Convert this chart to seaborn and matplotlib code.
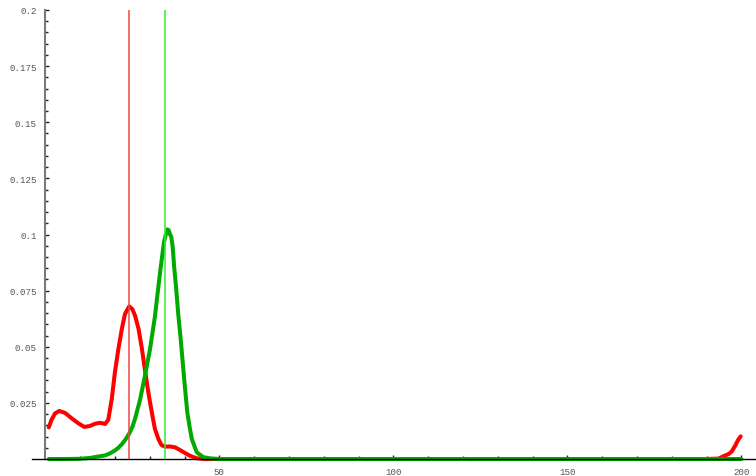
import numpy as np
import matplotlib
matplotlib.use("Agg")
import matplotlib.pyplot as plt
from matplotlib.ticker import FixedLocator, FuncFormatter
import seaborn as sns

# Red density curve
red_x = [1.0, 1.8, 2.8, 4.0, 5.7, 7.6, 9.5, 11.2, 12.8, 14.3, 15.5, 16.5, 17.2, 18.1,
         19.1, 20.0, 21.0, 22.0, 22.9, 24.1, 25.0, 25.8, 26.8, 27.7, 28.6, 29.6, 30.6,
         31.5, 32.5, 33.4, 34.4, 35.8, 37.3, 38.7, 40.1, 41.5, 43.5, 46.0, 60.0, 100.0,
         150.0, 190.0, 193.5, 194.8, 196.3, 197.2, 198.2, 199.1, 199.8]
red_y = [0.0141, 0.0175, 0.0203, 0.0214, 0.0205, 0.0181, 0.0159, 0.0143, 0.0147, 0.0157,
         0.0161, 0.0159, 0.0156, 0.0175, 0.0267, 0.0386, 0.0490, 0.0580, 0.0646, 0.0680,
         0.0668, 0.0638, 0.0579, 0.0497, 0.0401, 0.0297, 0.0208, 0.0134, 0.0089, 0.0062,
         0.0055, 0.0056, 0.0052, 0.0040, 0.0027, 0.0015, 0.0003, 0.0, 0.0, 0.0,
         0.0, 0.0, 0.0002, 0.0012, 0.0022, 0.0033, 0.0059, 0.0086, 0.0101]

# Green density curve
green_x = [1.0, 6.0, 10.0, 13.0, 14.8, 17.2, 18.7, 20.0, 21.0, 22.0, 23.0, 24.0, 25.0,
           25.8, 27.2, 28.6, 30.1, 31.5, 33.0, 34.1, 34.7, 35.1, 35.5, 35.8, 36.2, 36.6,
           37.0, 37.6, 38.2, 38.9, 39.9, 40.8, 41.5, 42.1, 43.5, 45.4, 47.3, 50.0,
           100.0, 150.0, 200.0]
green_y = [0.0, 0.0, 0.0001, 0.0005, 0.0010, 0.0016, 0.0026, 0.0038, 0.0050, 0.0066,
           0.0086, 0.0110, 0.0142, 0.0180, 0.0262, 0.0368, 0.0490, 0.0635, 0.0835,
           0.0965, 0.1005, 0.1023, 0.1018, 0.1001, 0.0990, 0.0945, 0.0860, 0.0760,
           0.0645, 0.0535, 0.0356, 0.0208, 0.0140, 0.0089, 0.0030, 0.0008, 0.0003,
           0.0, 0.0, 0.0, 0.0]

# Reference markers
red_marker = 24.05
green_marker = 34.3

y_ticks = [0.025, 0.05, 0.075, 0.1, 0.125, 0.15, 0.175, 0.2]
x_ticks = [50, 100, 150, 200]

sns.set_style("white")
plt.rcParams["font.family"] = ["Liberation Mono", "DejaVu Sans Mono"]

fig = plt.figure(figsize=(7.56, 4.77), dpi=100)
ax = fig.add_axes([32 / 756, 0, (756 - 32) / 756, 466 / 477])

sns.lineplot(x=red_x, y=red_y, color="#ff0000", linewidth=2.9, ax=ax,
             solid_capstyle="round", sort=False)
sns.lineplot(x=green_x, y=green_y, color="#00aa00", linewidth=2.9, ax=ax,
             solid_capstyle="round", sort=False)

ax.vlines(red_marker, 0, 0.2, color="#f04646", linewidth=1.1, zorder=5)
ax.vlines(green_marker, 0, 0.2, color="#2ef02e", linewidth=1.1, zorder=5)

ax.set_xlim(-3.82, 204.2)
ax.set_ylim(-0.00757, 0.2)

for s in ("top", "right"):
    ax.spines[s].set_visible(False)
ax.spines["left"].set_position(("data", 0))
ax.spines["left"].set_bounds(0, 0.2)
ax.spines["left"].set_color("#7a7a7a")
ax.spines["left"].set_linewidth(1.5)
ax.spines["bottom"].set_position(("data", 0))
ax.spines["bottom"].set_color("#000000")
ax.spines["bottom"].set_linewidth(1.0)

ax.xaxis.set_major_locator(FixedLocator(x_ticks))
ax.xaxis.set_minor_locator(FixedLocator([v for v in range(10, 201, 10) if v % 50]))
ax.yaxis.set_major_locator(FixedLocator(y_ticks))
ax.yaxis.set_minor_locator(FixedLocator([round(v * 0.005, 3) for v in range(1, 41) if v % 5]))

ax.xaxis.set_major_formatter(FuncFormatter(lambda v, p: f"{v:g}"))
ax.yaxis.set_major_formatter(FuncFormatter(lambda v, p: f"{v:g}"))

ax.tick_params(axis="both", which="both", direction="in", colors="#222222",
               labelcolor="#555555", labelsize=6.6, bottom=True, left=True,
               top=False, right=False)
ax.tick_params(axis="both", which="major", length=3.2, width=1.0)
ax.tick_params(axis="both", which="minor", length=2.0, width=1.0)
ax.tick_params(axis="y", which="major", pad=6.2)
ax.tick_params(axis="x", which="major", pad=5.5)
ax.set_xlabel("")
ax.set_ylabel("")
ax.grid(False)

fig.savefig("out.png", dpi=100)
